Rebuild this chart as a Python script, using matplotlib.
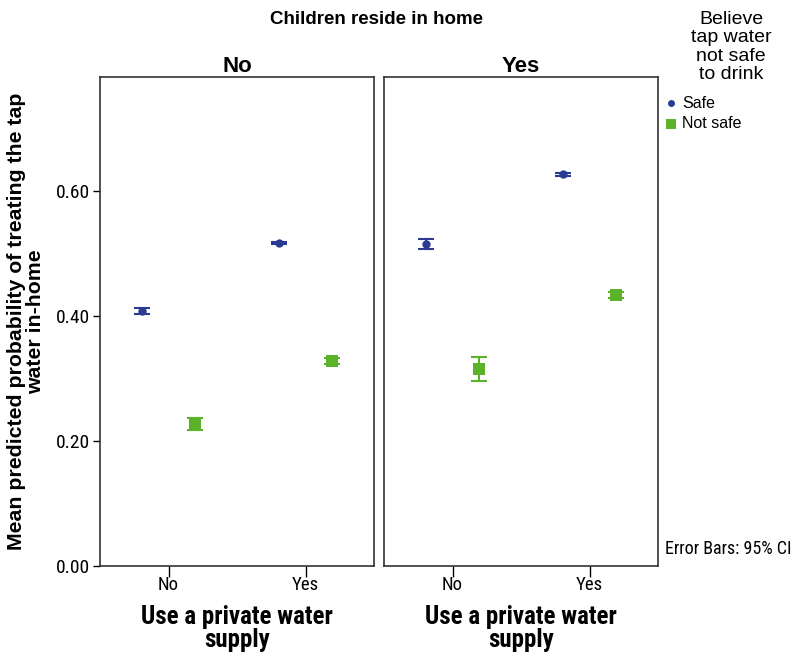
import matplotlib.pyplot as plt
import numpy as np

plt.rcParams['font.family'] = ['Liberation Sans', 'DejaVu Sans']
NARROW = ['Roboto Condensed', 'Liberation Sans', 'DejaVu Sans']

# panel = children reside in home, x = use a private water supply
panels = ['No', 'Yes']
supply = ['No', 'Yes']
groups = ['Safe', 'Not safe']

# mean predicted probability, per panel: [supply No, supply Yes]
means = {
    'No':  {'Safe': [0.408, 0.517], 'Not safe': [0.227, 0.328]},
    'Yes': {'Safe': [0.515, 0.627], 'Not safe': [0.316, 0.434]},
}
# 95% CI half widths
errs = {
    'No':  {'Safe': [0.005, 0.002], 'Not safe': [0.010, 0.005]},
    'Yes': {'Safe': [0.008, 0.002], 'Not safe': [0.019, 0.005]},
}

colors = {'Safe': '#2b3a92', 'Not safe': '#5cb32a'}
markers = {'Safe': 'o', 'Not safe': 's'}
msize = {'Safe': 6, 'Not safe': 8}
offsets = {'Safe': -0.19, 'Not safe': 0.19}

fig = plt.figure(figsize=(8, 6.57), dpi=100)
W, H = 800, 657
for i, p in enumerate(panels):
    left = 100 if i == 0 else 384
    ax = fig.add_axes([left / W, 91 / H, 274 / W, 489 / H])
    x = np.arange(len(supply))
    for g in groups:
        xs = x + offsets[g]
        ax.errorbar(xs, means[p][g], yerr=errs[p][g], fmt='none',
                    ecolor=colors[g], capsize=6, elinewidth=1.5, capthick=1.5)
        ax.plot(xs, means[p][g], ls='none', marker=markers[g], color=colors[g],
                ms=msize[g], mew=0)
    ax.set_xlim(-0.5, 1.5)
    ax.set_ylim(0, 0.783)
    ax.set_xticks(x)
    ax.set_xticklabels(supply, fontsize=13.5, family=NARROW)
    ax.tick_params(axis='x', length=8, width=1, direction='out', pad=-1)
    for s in ax.spines.values():
        s.set_linewidth(1.2)
        s.set_color('#333333')
    ax.set_title(p, fontsize=16, fontweight='bold', pad=0)
    ax.set_xlabel('Use a private water\nsupply', fontsize=18, fontweight='bold',
                  family=NARROW, labelpad=8, linespacing=0.95)
    if i == 0:
        ax.set_yticks([0, 0.2, 0.4, 0.6])
        ax.set_yticklabels(['0.00', '0.20', '0.40', '0.60'], fontsize=14, family=NARROW)
        ax.tick_params(axis='y', length=5, width=1, direction='out', pad=2)
        ax.set_ylabel('Mean predicted probability of treating the tap\nwater in-home',
                      fontsize=15.3, fontweight='bold', linespacing=1.0)
        ax.yaxis.set_label_coords(-0.2, 0.5)
    else:
        ax.set_yticks([])

fig.text(377 / W, 1 - 19 / H, 'Children reside in home', ha='center', va='center',
         fontsize=13.5, fontweight='bold')

# legend
fig.text(731 / W, 1 - 47 / H, 'Believe\ntap water\nnot safe\nto drink', ha='center',
         va='center', fontsize=14, linespacing=1.1)
for j, g in enumerate(groups):
    yy = 1 - (103 + 21 * j) / H
    fig.lines.append(plt.Line2D([671 / W], [yy], marker=markers[g], color=colors[g],
                                ms=(5 if g == 'Safe' else 7), mew=0,
                                transform=fig.transFigure))
    fig.text(682 / W, yy, g, ha='left', va='center', fontsize=11.5)

fig.text(665 / W, 1 - 549 / H, 'Error Bars: 95% CI', ha='left', va='center',
         fontsize=13, family=NARROW)

fig.savefig('out.png', dpi=100)
